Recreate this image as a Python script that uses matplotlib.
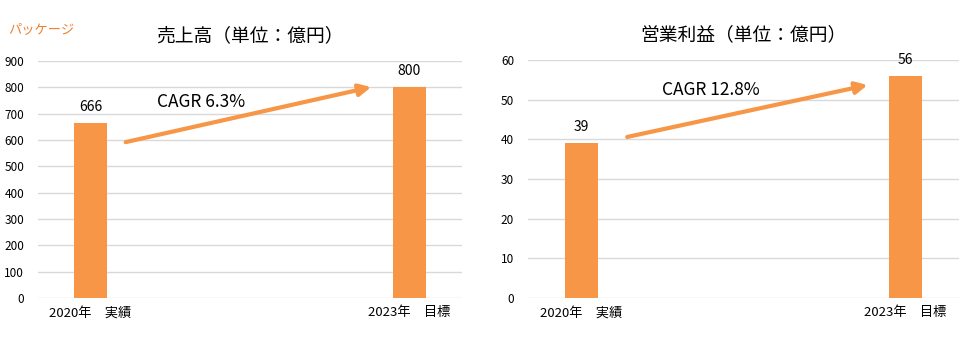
import matplotlib
matplotlib.use("Agg")
import matplotlib.pyplot as plt

plt.rcParams['font.family'] = ['Noto Sans CJK JP', 'DejaVu Sans']

categories = ["2020年　実績", "2023年　目標"]
sales = [666, 800]
profit = [39, 56]
sales_ticks = [0, 100, 200, 300, 400, 500, 600, 700, 800, 900]
profit_ticks = [0, 10, 20, 30, 40, 50, 60]

ORANGE = "#F79646"
GRID = "#D9D9D9"

fig = plt.figure(figsize=(9.69, 3.38), dpi=100)

def setup(ax, vals, ticks, title, cagr, arrow_start, arrow_end, text_pos):
    x = list(range(len(categories)))
    ax.bar(x, vals, width=0.104, color=ORANGE, zorder=3)
    ax.set_xlim(-0.165, 1.165)
    ax.set_ylim(ticks[0], ticks[-1])
    ax.set_yticks(ticks)
    ax.set_yticklabels([str(t) for t in ticks], fontsize=8.5)
    ax.set_xticks(x)
    ax.set_xticklabels(categories, fontsize=9.5)
    ax.tick_params(axis='both', length=0, pad=6)
    ax.tick_params(axis='y', pad=10)
    ax.grid(axis='y', color=GRID, linewidth=1, zorder=0)
    for s in ax.spines.values():
        s.set_visible(False)
    for xi, v in zip(x, vals):
        ax.annotate(str(v), (xi, v), xytext=(0, 6.5), textcoords='offset points',
                    ha='center', va='bottom', fontsize=10)
    ax.set_title(title, fontsize=13.5, pad=14)
    ax.annotate("", xy=arrow_end, xytext=arrow_start,
                arrowprops=dict(arrowstyle="-|>,head_length=0.7,head_width=0.35",
                                color=ORANGE, lw=3, shrinkA=0, shrinkB=0), zorder=4)
    ax.text(text_pos[0], text_pos[1], cagr, fontsize=12.5, ha='left', va='center')

ax1 = fig.add_axes([0.0392, 0.1183, 0.4376, 0.7012])
setup(ax1, sales, sales_ticks, "売上高（単位：億円）", "CAGR 6.3%",
      (0.11, 592), (0.88, 801), (0.209, 744))

ax2 = fig.add_axes([0.5449, 0.1183, 0.4448, 0.7041])
setup(ax2, profit, profit_ticks, "営業利益（単位：億円）", "CAGR 12.8%",
      (0.141, 40.6), (0.883, 53.7), (0.249, 52.4))

fig.text(8/969, 1 - 30/338, "パッケージ", color="#F07F2A", fontsize=9.5, ha='left', va='center')

fig.savefig("out.png", dpi=100)
